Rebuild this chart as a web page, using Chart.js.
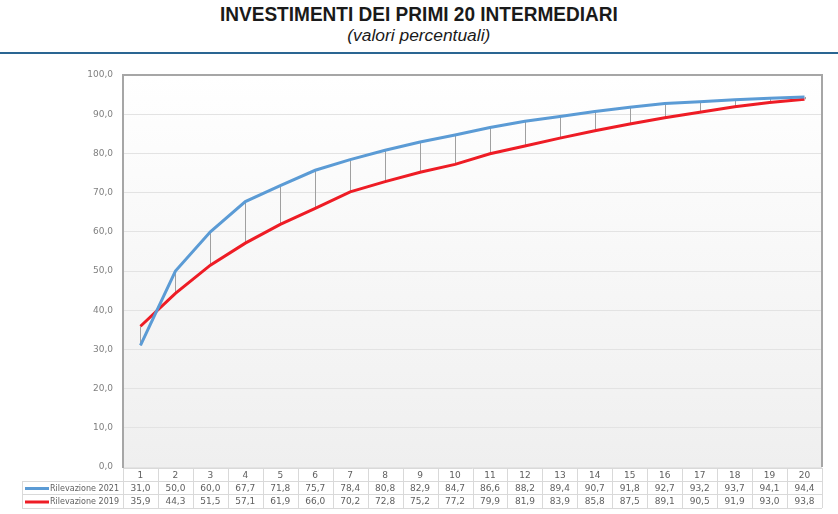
<!DOCTYPE html>
<html>
<head>
<meta charset="utf-8">
<script src="https://cdn.jsdelivr.net/npm/chart.js@4.4.1/dist/chart.umd.min.js"></script>
<style>
  body { margin: 0; width: 838px; height: 514px; overflow: hidden; background: #fff; }
  #grafico { position: absolute; left: 0; top: 0; }
  .riga { position: absolute; left: 0; width: 838px; text-align: center; color: #1a1a1a; font-family: "Liberation Sans Narrow", "Liberation Sans", Arial, sans-serif; }
  .riga span { display: inline-block; transform-origin: center; white-space: nowrap; }
  #titolo { top: 3px; font-size: 20px; font-weight: bold; }
  #sottotitolo { top: 27px; font-size: 16px; font-style: italic; }
  #linea { position: absolute; left: 0; top: 52px; width: 838px; height: 2px; background: #2a6592; }
</style>
</head>
<body>
<div class="riga" id="titolo"><span>INVESTIMENTI DEI PRIMI 20 INTERMEDIARI</span></div>
<div class="riga" id="sottotitolo"><span>(valori percentuali)</span></div>
<div id="linea"></div>
<canvas id="grafico" width="838" height="514"></canvas>
<script>
const categorie = ['1','2','3','4','5','6','7','8','9','10','11','12','13','14','15','16','17','18','19','20'];
const rilevazione2021 = [31.0, 50.0, 60.0, 67.7, 71.8, 75.7, 78.4, 80.8, 82.9, 84.7, 86.6, 88.2, 89.4, 90.7, 91.8, 92.7, 93.2, 93.7, 94.1, 94.4];
const rilevazione2019 = [35.9, 44.3, 51.5, 57.1, 61.9, 66.0, 70.2, 72.8, 75.2, 77.2, 79.9, 81.9, 83.9, 85.8, 87.5, 89.1, 90.5, 91.9, 93.0, 93.8];
const tickY = [0, 10, 20, 30, 40, 50, 60, 70, 80, 90, 100];

// adatta larghezza dei titoli
function adatta(id, larghezza) {
  const s = document.querySelector('#' + id + ' span');
  const w = s.getBoundingClientRect().width;
  s.style.transform = 'scaleX(' + (larghezza / w) + ')';
}
adatta('titolo', 398);
adatta('sottotitolo', 143);

const virgola = v => v.toFixed(1).replace('.', ',');

const sfondo = {
  id: 'sfondo',
  beforeDraw(chart) {
    const { ctx, chartArea: a } = chart;
    const g = ctx.createLinearGradient(0, a.top, 0, a.bottom);
    g.addColorStop(0, '#ffffff');
    g.addColorStop(1, '#efefef');
    ctx.save();
    ctx.fillStyle = g;
    ctx.fillRect(a.left, a.top, a.right - a.left, a.bottom - a.top);
    ctx.restore();
  }
};

const lineeVerticali = {
  id: 'lineeVerticali',
  beforeDatasetsDraw(chart) {
    const { ctx, scales: { x, y } } = chart;
    ctx.save();
    ctx.strokeStyle = '#a0a0a0';
    ctx.lineWidth = 1;
    categorie.forEach((c, i) => {
      const px = Math.round(x.getPixelForValue(i)) + 0.5;
      ctx.beginPath();
      ctx.moveTo(px, y.getPixelForValue(rilevazione2021[i]));
      ctx.lineTo(px, y.getPixelForValue(rilevazione2019[i]));
      ctx.stroke();
    });
    ctx.restore();
  }
};

const tabella = {
  id: 'tabella',
  afterDraw(chart) {
    const { ctx, chartArea: a, scales: { x } } = chart;
    ctx.save();
    // bordo superiore e destro
    ctx.strokeStyle = '#a6a6a6';
    ctx.lineWidth = 2;
    ctx.beginPath();
    ctx.moveTo(a.left, a.top);
    ctx.lineTo(a.right, a.top);
    ctx.lineTo(a.right, a.bottom);
    ctx.stroke();

    const w = x.getPixelForValue(1) - x.getPixelForValue(0);
    const righe = [468, 481, 494, 508];
    const sinistra = 22;
    ctx.strokeStyle = '#d9d9d9';
    ctx.lineWidth = 1;
    ctx.beginPath();
    // orizzontali
    ctx.moveTo(a.left, righe[0] + 0.5); ctx.lineTo(a.right, righe[0] + 0.5);
    for (let r = 1; r < righe.length; r++) {
      ctx.moveTo(sinistra, righe[r] + 0.5); ctx.lineTo(a.right, righe[r] + 0.5);
    }
    // verticali
    ctx.moveTo(sinistra + 0.5, righe[1]); ctx.lineTo(sinistra + 0.5, righe[3]);
    for (let i = 0; i <= categorie.length; i++) {
      const px = Math.round(x.getPixelForValue(i) - w / 2) + 0.5;
      ctx.moveTo(px, righe[0]); ctx.lineTo(px, righe[3]);
    }
    ctx.stroke();

    ctx.font = '9px "DejaVu Sans"';
    ctx.fillStyle = '#606060';
    ctx.textAlign = 'center';
    ctx.textBaseline = 'middle';
    categorie.forEach((c, i) => {
      const px = x.getPixelForValue(i);
      ctx.fillText(c, px, (righe[0] + righe[1]) / 2 + 1);
      ctx.fillText(virgola(rilevazione2021[i]), px, (righe[1] + righe[2]) / 2 + 1);
      ctx.fillText(virgola(rilevazione2019[i]), px, (righe[2] + righe[3]) / 2 + 1);
    });

    // legenda nella tabella
    chart.data.datasets.forEach((d, k) => {
      const cy = (righe[k + 1] + righe[k + 2]) / 2 + 1;
      ctx.strokeStyle = d.borderColor;
      ctx.lineWidth = 3;
      ctx.beginPath();
      ctx.moveTo(25, cy); ctx.lineTo(49, cy);
      ctx.stroke();
      ctx.textAlign = 'left';
      ctx.fillText(d.label, 50, cy, 69);
    });
    ctx.restore();
  }
};

new Chart(document.getElementById('grafico'), {
  type: 'line',
  data: {
    labels: categorie,
    datasets: [
      { label: 'Rilevazione 2021', data: rilevazione2021, borderColor: '#5b9bd5', borderWidth: 3, pointRadius: 0, tension: 0 },
      { label: 'Rilevazione 2019', data: rilevazione2019, borderColor: '#ee1c25', borderWidth: 3, pointRadius: 0, tension: 0 }
    ]
  },
  options: {
    responsive: false,
    animation: false,
    layout: { padding: { top: 75, right: 16, bottom: 47, left: 0 } },
    plugins: { legend: { display: false }, title: { display: false }, tooltip: { enabled: false } },
    scales: {
      x: { type: 'category', offset: true, display: false },
      y: {
        min: 0, max: 100,
        afterFit: s => { s.width = 123; },
        afterBuildTicks: s => { s.ticks = tickY.map(v => ({ value: v })); },
        ticks: {
          padding: 10,
          color: '#808080',
          font: { family: 'DejaVu Sans', size: 9 },
          callback: v => virgola(v)
        },
        grid: { color: '#e3e3e3', lineWidth: 1, drawTicks: false },
        border: { color: '#a6a6a6', width: 2 }
      }
    }
  },
  plugins: [sfondo, lineeVerticali, tabella]
});
</script>
</body>
</html>
